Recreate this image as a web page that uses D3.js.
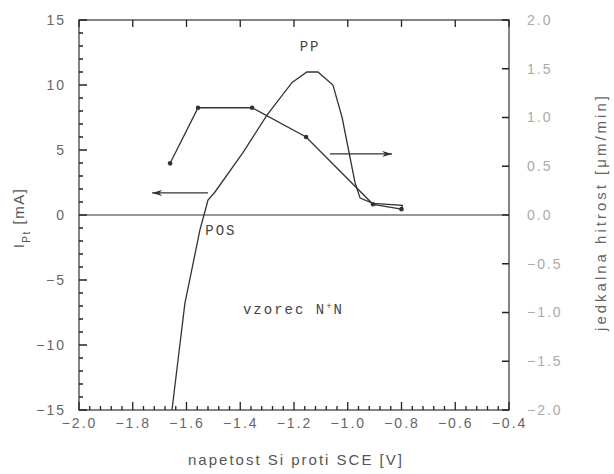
<!DOCTYPE html>
<html>
<head>
<meta charset="utf-8">
<script src="https://cdn.jsdelivr.net/npm/d3@7"></script>
<style>
  body { margin: 0; background: #fff; }
  svg text { font-family: "Liberation Sans", "DejaVu Sans", sans-serif; }
</style>
</head>
<body>
<div id="chart"></div>
<script>
// tok na Pt elektrodi (levo os)
var napetostI = [-1.654, -1.606, -1.55, -1.535, -1.52, -1.494, -1.39, -1.30, -1.207, -1.152, -1.111, -1.055, -1.021, -0.973, -0.954, -0.906, -0.797, -0.80];
var tokI = [-15, -6.8, -1.15, 0, 1.15, 1.77, 4.8, 7.7, 10.2, 11.0, 11.0, 10.0, 7.5, 2.5, 1.3, 0.9, 0.75, 0.45];

// jedkalna hitrost (desna os)
var napetostR = [-1.661, -1.557, -1.356, -1.155, -0.906, -0.80];
var hitrost = [0.53, 1.10, 1.10, 0.80, 0.11, 0.06];

var xTicks = [-2.0, -1.8, -1.6, -1.4, -1.2, -1.0, -0.8, -0.6, -0.4];
var yLeftTicks = [-15, -10, -5, 0, 5, 10, 15];
var yRightTicks = [-2.0, -1.5, -1.0, -0.5, 0.0, 0.5, 1.0, 1.5, 2.0];

var W = 614, H = 474;
var margin = { top: 20, right: 105, bottom: 64, left: 79 },
    width = W - margin.left - margin.right,
    height = H - margin.top - margin.bottom;

var svg = d3.select("#chart").append("svg")
    .attr("width", W).attr("height", H);
var g = svg.append("g")
    .attr("transform", "translate(" + margin.left + "," + margin.top + ")");

var x = d3.scaleLinear().domain([-2.0, -0.4]).range([0, width]);
var yL = d3.scaleLinear().domain([-15, 15]).range([height, 0]);
var yR = d3.scaleLinear().domain([-2, 2]).range([height, 0]);

var fmt = d3.format(".1f");
var ink = "#333";

// frame
g.append("rect").attr("width", width).attr("height", height)
    .attr("fill", "none").attr("stroke", ink).attr("stroke-width", 1.2);

// axes (labels only, tick marks drawn below)
var xAxis = g.append("g").attr("transform", "translate(0," + height + ")")
    .call(d3.axisBottom(x).tickValues(xTicks).tickSize(0).tickPadding(8).tickFormat(fmt));
var yAxisL = g.append("g")
    .call(d3.axisLeft(yL).tickValues(yLeftTicks).tickSize(0).tickPadding(13));
var yAxisR = g.append("g").attr("transform", "translate(" + width + ",0)")
    .call(d3.axisRight(yR).tickValues(yRightTicks).tickSize(0).tickPadding(18).tickFormat(fmt));
g.selectAll(".domain").remove();
g.selectAll(".tick text").attr("font-size", 14).attr("fill", "#666")
    .style("font-family", "'Liberation Sans', sans-serif").attr("letter-spacing", 2);
yAxisR.selectAll(".tick text").attr("fill", "#aaa");

// tick marks, pointing inward, as one path
var xMinor = d3.range(0, 41).map(function (i) { return -2.0 + i * 0.04; });
var yMinor = d3.range(-15, 16);
var p = d3.path();
xMinor.forEach(function (d) { p.moveTo(x(d), height); p.lineTo(x(d), height - 4); });
xTicks.forEach(function (d) {
    p.moveTo(x(d), height); p.lineTo(x(d), height - 8);
    p.moveTo(x(d), 0); p.lineTo(x(d), 7);
});
yMinor.forEach(function (d) { p.moveTo(0, yL(d)); p.lineTo(4, yL(d)); });
yLeftTicks.forEach(function (d) { p.moveTo(0, yL(d)); p.lineTo(8, yL(d)); });
yRightTicks.forEach(function (d) { p.moveTo(width, yR(d)); p.lineTo(width - 7, yR(d)); });
g.append("path").attr("d", p.toString())
    .attr("fill", "none").attr("stroke", "#222").attr("stroke-width", 1.3);

// zero line
g.append("line").attr("x1", 0).attr("x2", width)
    .attr("y1", yL(0)).attr("y2", yL(0)).attr("stroke", ink).attr("stroke-width", 1.2);

// current curve
var lineI = d3.line()
    .x(function (d, i) { return x(napetostI[i]); })
    .y(function (d) { return yL(d); });
g.append("path").datum(tokI).attr("d", lineI)
    .attr("fill", "none").attr("stroke", ink).attr("stroke-width", 1.3);

// etch rate curve
var lineR = d3.line()
    .x(function (d, i) { return x(napetostR[i]); })
    .y(function (d) { return yR(d); });
g.append("path").datum(hitrost).attr("d", lineR)
    .attr("fill", "none").attr("stroke", ink).attr("stroke-width", 1.3);
g.selectAll("circle.r").data(hitrost).enter().append("circle")
    .attr("class", "r")
    .attr("cx", function (d, i) { return x(napetostR[i]); })
    .attr("cy", function (d) { return yR(d); })
    .attr("r", 2.3).attr("fill", ink);

// arrows
svg.append("defs").append("marker")
    .attr("id", "arr").attr("viewBox", "0 0 10 6").attr("refX", 10).attr("refY", 3)
    .attr("markerWidth", 16).attr("markerHeight", 6).attr("orient", "auto")
    .attr("markerUnits", "userSpaceOnUse")
    .append("path").attr("d", "M0,0 L10,3 L0,6 L3,3 Z").attr("fill", ink);
g.append("line")
    .attr("x1", x(-1.52)).attr("x2", x(-1.728))
    .attr("y1", yL(1.7)).attr("y2", yL(1.7))
    .attr("stroke", ink).attr("stroke-width", 1.3).attr("marker-end", "url(#arr)");
g.append("line")
    .attr("x1", x(-1.066)).attr("x2", x(-0.835))
    .attr("y1", yL(4.7)).attr("y2", yL(4.7))
    .attr("stroke", ink).attr("stroke-width", 1.3).attr("marker-end", "url(#arr)");

// annotations
var mono = "'Liberation Mono', 'DejaVu Sans Mono', monospace";
g.append("text").attr("x", x(-1.14)).attr("y", yL(12.6)).attr("text-anchor", "middle")
    .style("font-family", mono).attr("font-size", 14).attr("letter-spacing", 2).attr("fill", "#444").text("PP");
g.append("text").attr("x", x(-1.53)).attr("y", yL(-1.55)).attr("text-anchor", "start")
    .style("font-family", mono).attr("font-size", 14).attr("letter-spacing", 2).attr("fill", "#444").text("POS");
var vz = g.append("text").attr("x", x(-1.39)).attr("y", yL(-7.6))
    .style("font-family", mono).attr("font-size", 14).attr("letter-spacing", 2).attr("fill", "#444");
vz.append("tspan").text("vzorec N");
vz.append("tspan").attr("baseline-shift", "super").attr("font-size", 9).text("+");
vz.append("tspan").text("N");

// axis titles
svg.append("text").attr("x", 296).attr("y", 465).attr("text-anchor", "middle")
    .attr("font-size", 15).attr("fill", "#555").attr("letter-spacing", 2)
    .text("napetost Si proti SCE [V]");

var yl = svg.append("text").attr("transform", "translate(24,218) rotate(-90)")
    .attr("text-anchor", "middle").attr("font-size", 15).attr("fill", "#555").attr("letter-spacing", 1.5);
yl.append("tspan").text("I");
yl.append("tspan").attr("baseline-shift", "sub").attr("font-size", 10).text("Pt");
yl.append("tspan").text(" [mA]");

svg.append("text").attr("transform", "translate(606,212) rotate(-90)")
    .attr("text-anchor", "middle").attr("font-size", 15).attr("fill", "#666").attr("letter-spacing", 3)
    .text("jedkalna hitrost [μm/min]");
</script>
</body>
</html>
